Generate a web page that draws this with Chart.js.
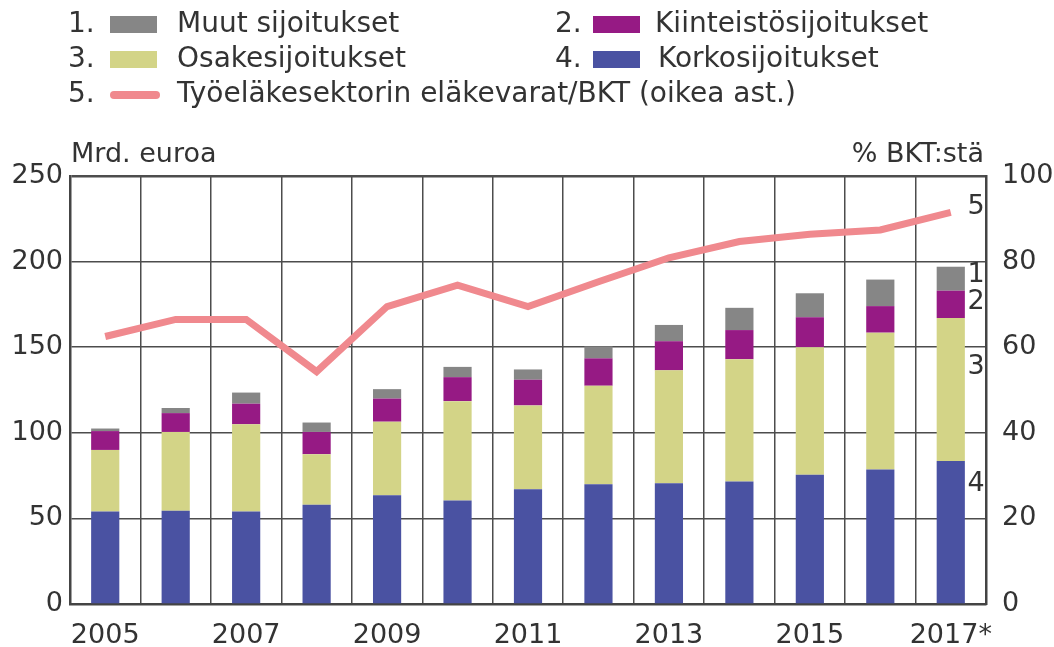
<!DOCTYPE html>
<html>
<head>
<meta charset="utf-8">
<script src="https://cdn.jsdelivr.net/npm/chart.js@4/dist/chart.umd.min.js"></script>
<style>
  html, body { margin: 0; padding: 0; background: #fff; }
  #wrap { width: 1054px; height: 647px; position: relative; }
</style>
</head>
<body>
<div id="wrap"><canvas id="chart" width="1054" height="647"></canvas></div>
<script>
// data
const years = ['2005', '2006', '2007', '2008', '2009', '2010', '2011', '2012', '2013', '2014', '2015', '2016', '2017*'];
const korko = [54, 54.5, 54, 58, 63.5, 60.5, 67, 70, 70.5, 71.5, 75.5, 78.5, 83.5];
const osake = [36, 46, 51, 29.5, 43, 58, 49, 57.5, 66, 71.5, 74.5, 80, 83.5];
const kiint = [11, 11, 12, 13, 13.5, 14, 15, 16, 17, 17, 17.5, 15.5, 16];
const muut = [1.5, 3, 6.5, 5.5, 5.5, 6, 6, 7, 9.5, 13, 14, 15.5, 14];
const elakevarat = [62.5, 66.5, 66.5, 54.3, 69.5, 74.5, 69.5, 75.3, 80.9, 84.7, 86.4, 87.4, 91.5];

const leftTicks = [0, 50, 100, 150, 200, 250];
const rightTicks = [0, 20, 40, 60, 80, 100];

const legendItems = [
  { no: '1.', text: 'Muut sijoitukset', color: '#868686' },
  { no: '2.', text: 'Kiinteistösijoitukset', color: '#961a84' },
  { no: '3.', text: 'Osakesijoitukset', color: '#d3d487' },
  { no: '4.', text: 'Korkosijoitukset', color: '#4a52a2' },
  { no: '5.', text: 'Työeläkesektorin eläkevarat/BKT (oikea ast.)', color: '#f0898e' }
];

// numbers at the right end of the bars / line: [label, axis, value]
const endLabels = [['5', 'y1', 92.7], ['1', 'y', 192], ['2', 'y', 176.5], ['3', 'y', 138.5], ['4', 'y', 70]];

const textColor = '#333';
const font = 'DejaVu Sans';

const extras = {
  id: 'extras',
  afterDraw(chart) {
    const ctx = chart.ctx;
    const area = chart.chartArea;
    ctx.save();
    ctx.fillStyle = textColor;
    ctx.textBaseline = 'middle';

    // legend, two columns
    ctx.font = '28px "' + font + '"';
    const colX = [68, 555];
    const swatchOff = [42, 38];
    const textOff = [109, 100, 109, 103, 109];
    const rowY = [25, 60, 95];
    legendItems.forEach((it, i) => {
      const col = i % 2;
      const x = colX[col];
      const y = rowY[Math.floor(i / 2)];
      ctx.fillStyle = textColor;
      ctx.textAlign = 'left';
      ctx.fillText(it.no, x, y);
      if (i < 4) {
        ctx.fillStyle = it.color;
        ctx.fillRect(x + swatchOff[col], y - 9, 47, 17);
      } else {
        ctx.strokeStyle = it.color;
        ctx.lineWidth = 8;
        ctx.lineCap = 'round';
        ctx.beginPath();
        ctx.moveTo(x + 46, y);
        ctx.lineTo(x + 88, y);
        ctx.stroke();
      }
      ctx.fillStyle = textColor;
      ctx.fillText(it.text, x + textOff[i], y);
    });

    // axis titles
    ctx.font = '27px "' + font + '"';
    ctx.textAlign = 'left';
    ctx.fillText('Mrd. euroa', area.left + 1, 155);
    ctx.textAlign = 'right';
    ctx.fillText('% BKT:stä', area.right - 2, 155);

    // end labels
    ctx.textAlign = 'center';
    endLabels.forEach(([t, axis, v]) => {
      ctx.fillText(t, 976, chart.scales[axis].getPixelForValue(v));
    });
    ctx.restore();
  }
};

new Chart(document.getElementById('chart'), {
  type: 'bar',
  data: {
    labels: years,
    datasets: [
      { type: 'line', label: legendItems[4].text, data: elakevarat, yAxisID: 'y1', order: 0,
        borderColor: legendItems[4].color, borderWidth: 7, pointRadius: 0, tension: 0, fill: false },
      { label: legendItems[3].text, data: korko, backgroundColor: legendItems[3].color, order: 1 },
      { label: legendItems[2].text, data: osake, backgroundColor: legendItems[2].color, order: 1 },
      { label: legendItems[1].text, data: kiint, backgroundColor: legendItems[1].color, order: 1 },
      { label: legendItems[0].text, data: muut, backgroundColor: legendItems[0].color, order: 1 }
    ]
  },
  options: {
    responsive: false,
    animation: false,
    barPercentage: 0.4,
    categoryPercentage: 1,
    layout: { padding: { top: 176, left: 0, right: 0, bottom: 0 } },
    plugins: { legend: { display: false }, tooltip: { enabled: false } },
    scales: {
      x: {
        stacked: true,
        offset: true,
        grid: { offset: true, color: '#4d4d4d', lineWidth: 1.5, drawTicks: false },
        border: { color: '#444', width: 2.5 },
        ticks: {
          autoSkip: false, maxRotation: 0, padding: 16, color: textColor,
          font: { family: font, size: 27 },
          callback: (v, i) => (i % 2 === 0 ? years[i] : '')
        },
        afterFit: s => { s.height = 43; }
      },
      y: {
        stacked: true,
        min: 0, max: 250,
        afterBuildTicks: s => { s.ticks = leftTicks.map(v => ({ value: v })); },
        grid: {
          color: '#4d4d4d', drawTicks: false,
          lineWidth: c => (c.tick && c.tick.value === 250 ? 2.5 : 1.5)
        },
        border: { color: '#444', width: 2.5 },
        ticks: { padding: 7, color: textColor, font: { family: font, size: 27 } },
        afterFit: s => { s.width = 70; }
      },
      y1: {
        position: 'right',
        stacked: false,
        min: 0, max: 100,
        afterBuildTicks: s => { s.ticks = rightTicks.map(v => ({ value: v })); },
        grid: { drawOnChartArea: false, drawTicks: false },
        border: { color: '#444', width: 2.5 },
        ticks: { padding: 16, color: textColor, font: { family: font, size: 27 } },
        afterFit: s => { s.width = 68; }
      }
    }
  },
  plugins: [extras]
});
</script>
</body>
</html>
